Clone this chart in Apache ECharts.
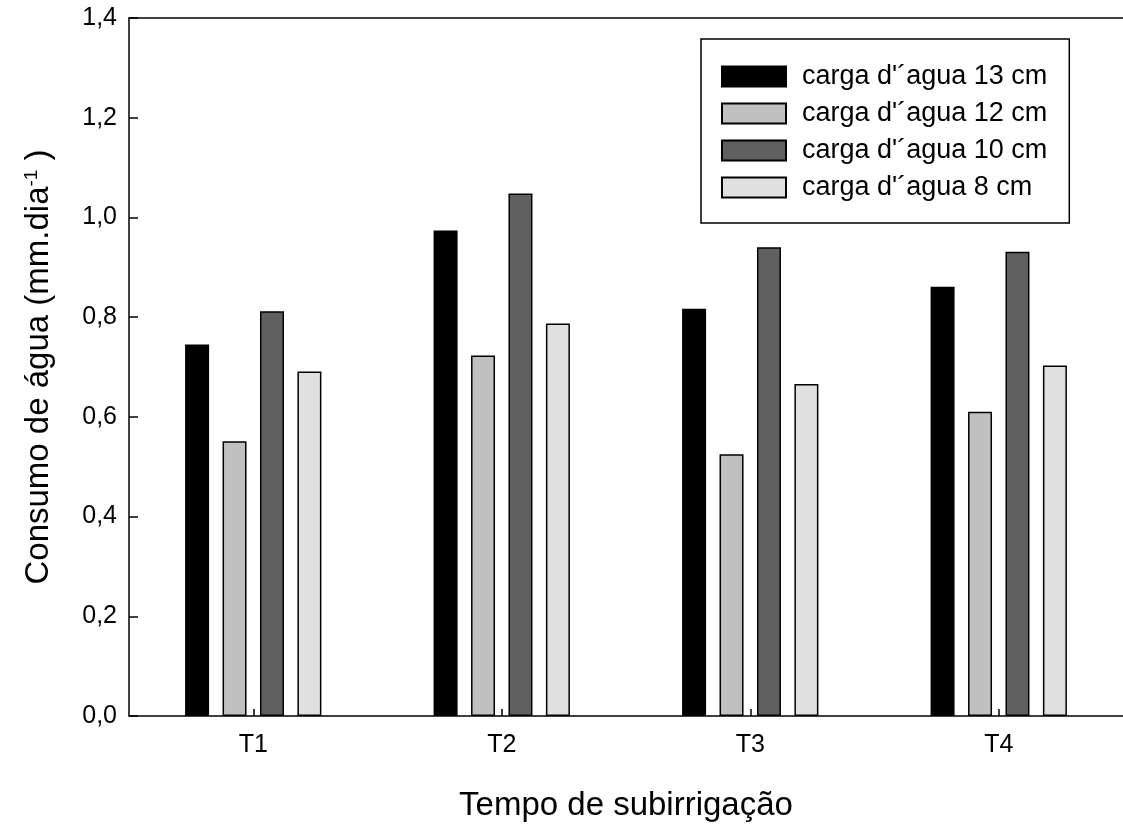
<!DOCTYPE html>
<html>
<head>
<meta charset="utf-8">
<script src="https://cdn.jsdelivr.net/npm/echarts@6/dist/echarts.min.js"></script>
<style>
html,body{margin:0;padding:0;background:#fff;}
#chart{width:1123px;height:827px;}
</style>
</head>
<body>
<div id="chart"></div>
<script>
const categories = ['T1', 'T2', 'T3', 'T4'];
const seriesNames = ["carga d'´agua 13 cm", "carga d'´agua 12 cm", "carga d'´agua 10 cm", "carga d'´agua 8 cm"];
const carga13 = [0.745, 0.974, 0.817, 0.861];
const carga12 = [0.551, 0.723, 0.525, 0.610];
const carga10 = [0.812, 1.048, 0.940, 0.931];
const carga8  = [0.691, 0.787, 0.666, 0.703];
const yTicks = [0, 0.2, 0.4, 0.6, 0.8, 1.0, 1.2, 1.4];

const colors = ['#000000', '#c0c0c0', '#606060', '#e0e0e0'];
const dataSets = [carga13, carga12, carga10, carga8];
const FONT = "'Liberation Sans', Arial, sans-serif";

const chart = echarts.init(document.getElementById('chart'), null, {renderer: 'canvas'});
const option = {
  backgroundColor: '#ffffff',
  animation: false,
  grid: {left: 129, top: 18, width: 996, height: 698, containLabel: false},
  legend: {
    orient: 'vertical',
    left: 701, top: 39,
    padding: [24, 22, 22, 20],
    itemWidth: 64, itemHeight: 20, itemGap: 10,
    icon: 'rect',
    borderColor: '#000', borderWidth: 1.5,
    backgroundColor: '#fff',
    textStyle: {fontFamily: FONT, fontSize: 27, color: '#000', padding: [0, 0, 0, 11]},
    data: seriesNames
  },
  xAxis: [{
    type: 'category',
    data: categories,
    position: 'bottom',
    axisLine: {show: true, lineStyle: {color: '#000', width: 1.5}},
    axisTick: {show: true, inside: true, alignWithLabel: true, length: 7, lineStyle: {color: '#000', width: 1.5}},
    axisLabel: {fontFamily: FONT, fontSize: 25, color: '#000', margin: 17},
    splitLine: {show: false},
    name: 'Tempo de subirrigação',
    nameLocation: 'middle',
    nameGap: 73,
    nameTextStyle: {fontFamily: FONT, fontSize: 33, color: '#000'}
  }, {
    type: 'category',
    data: categories,
    position: 'top',
    axisLine: {show: true, lineStyle: {color: '#000', width: 1.5}},
    axisTick: {show: false},
    axisLabel: {show: false},
    splitLine: {show: false}
  }],
  yAxis: {
    type: 'value',
    min: yTicks[0], max: yTicks[yTicks.length - 1], interval: 0.2,
    axisLine: {show: true, lineStyle: {color: '#000', width: 1.5}},
    axisTick: {show: true, inside: true, length: 9, lineStyle: {color: '#000', width: 1.5}},
    axisLabel: {fontFamily: FONT, fontSize: 25, color: '#000', margin: 12,
      formatter: v => v.toFixed(1).replace('.', ',')},
    splitLine: {show: false},
    name: 'Consumo de água (mm.dia{sup|-1}{n| )}',
    nameLocation: 'middle',
    nameGap: 74,
    nameRotate: 90,
    nameTextStyle: {fontFamily: FONT, fontSize: 33, color: '#000',
      rich: {
        sup: {fontFamily: FONT, fontSize: 19, color: '#000', verticalAlign: 'top', lineHeight: 18},
        n: {fontFamily: FONT, fontSize: 33, color: '#000'}
      }}
  },
  series: dataSets.map((d, i) => ({
    name: seriesNames[i],
    type: 'bar',
    xAxisIndex: 0,
    data: d,
    barWidth: 24,
    barGap: '56%',
    itemStyle: {color: colors[i], borderColor: '#000', borderWidth: 1.5}
  }))
};
chart.setOption(option);
</script>
</body>
</html>
